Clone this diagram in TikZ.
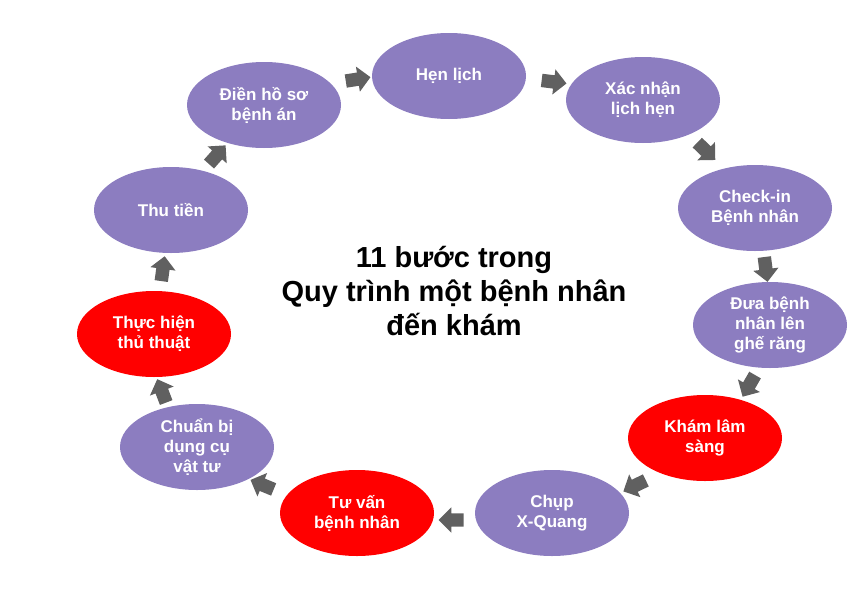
\documentclass[tikz,border=0pt]{standalone}
\usepackage{fontspec}
\setmainfont{Liberation Sans}
\usetikzlibrary{shapes.geometric,shapes.arrows,calc}
\definecolor{stepviolet}{RGB}{140,125,192}
\definecolor{stepred}{RGB}{255,0,0}
\definecolor{arrgray}{RGB}{96,96,96}
\tikzset{
  stepnode/.style={ellipse, draw=none, fill=stepviolet, minimum width=154pt, minimum height=86pt,
    inner sep=0pt, align=center, text=white, font=\fontsize{17}{20}\selectfont\bfseries},
  keynode/.style={stepnode, fill=stepred},
  blockarr/.style={single arrow, draw=none, fill=arrgray, minimum height=25pt, minimum width=25pt,
    text height=6.5pt, text depth=6.5pt, text width=0pt,
    single arrow head extend=6pt, single arrow head indent=0pt, inner sep=0pt},
}
\newcommand\flowarrow[4]{%
  \path ($(#1)!#3!90:(#2)$) -- ($(#2)!#3!-90:(#1)$)
    node[blockarr, pos=#4, sloped, allow upside down] {};}
\begin{document}
\begin{tikzpicture}[x=1pt,y=-1pt]
\useasboundingbox (0,0) rectangle (861,613);
\node[stepnode] (s1)  at (449,76)  {Hẹn lịch};
\node[stepnode] (s2)  at (643,100) {Xác nhận\\lịch hẹn};
\node[stepnode] (s3)  at (755,208) {Check-in\\Bệnh nhân};
\node[stepnode] (s4)  at (770,325) {Đưa bệnh\\nhân lên\\ghế răng};
\node[keynode]  (s5)  at (705,438) {Khám lâm\\sàng};
\node[stepnode] (s6)  at (552,513) {Chụp\\X-Quang};
\node[keynode]  (s7)  at (357,513) {Tư vấn\\bệnh nhân};
\node[stepnode] (s8)  at (197,447) {Chuẩn bị\\dụng cụ\\vật tư};
\node[keynode]  (s9)  at (154,334) {Thực hiện\\thủ thuật};
\node[stepnode] (s10) at (171,210) {Thu tiền};
\node[stepnode] (s11) at (264,105) {Điền hồ sơ\\bệnh án};
\node[align=center, font=\fontsize{29}{34}\selectfont\bfseries] (title) at (454,291)
  {11 bước trong\\Quy trình một bệnh nhân\\đến khám};
\flowarrow{s11}{s1}{11pt}{0.5}
\flowarrow{s1}{s2}{7pt}{0.52}
\flowarrow{s2}{s3}{7pt}{0.5}
\flowarrow{s3}{s4}{3pt}{0.5}
\flowarrow{s4}{s5}{12pt}{0.46}
\flowarrow{s5}{s6}{12pt}{0.475}
\flowarrow{s6}{s7}{7pt}{0.5}
\flowarrow{s7}{s8}{10pt}{0.55}
\flowarrow{s8}{s9}{13pt}{0.51}
\flowarrow{s9}{s10}{0pt}{0.5}
\flowarrow{s10}{s11}{2pt}{0.49}
\end{tikzpicture}
\end{document}
